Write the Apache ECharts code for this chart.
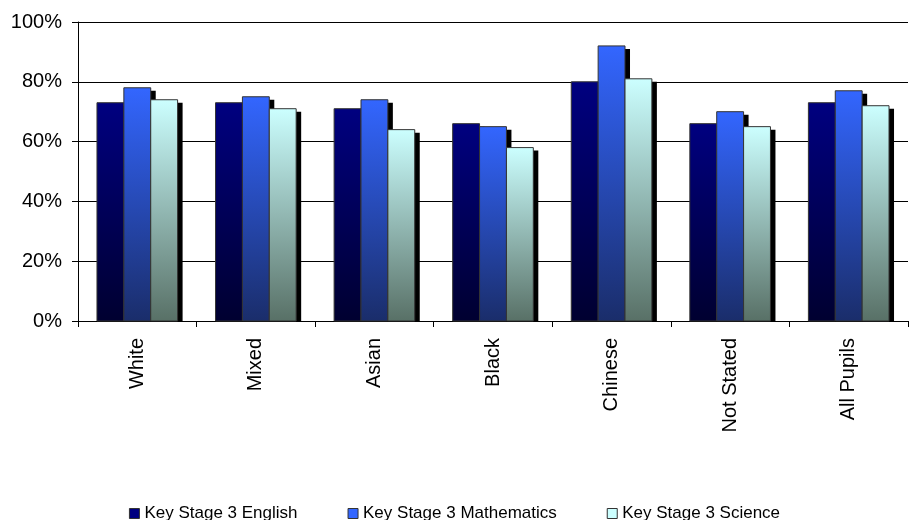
<!DOCTYPE html>
<html>
<head>
<meta charset="utf-8">
<script src="https://cdn.jsdelivr.net/npm/echarts@6/dist/echarts.min.js"></script>
<style>
  html, body { margin: 0; padding: 0; background: #fff; }
  #chart { width: 909px; height: 520px; }
</style>
</head>
<body>
<div id="chart"></div>
<script>
var categories = ['White', 'Mixed', 'Asian', 'Black', 'Chinese', 'Not Stated', 'All Pupils'];
var english = [73, 73, 71, 66, 80, 66, 73];
var maths = [78, 75, 74, 65, 92, 70, 77];
var science = [74, 71, 64, 58, 81, 65, 72];
var yTicks = [0, 20, 40, 60, 80, 100];

var names = ['Key Stage 3 English', 'Key Stage 3 Mathematics', 'Key Stage 3 Science'];
var values = [english, maths, science];
var topColors = ['#000080', '#3366ff', '#ccffff'];
var bottomColors = ['#000030', '#1a2d6a', '#587066'];

function grad(top, bottom) {
    return new echarts.graphic.LinearGradient(0, 0, 0, 1, [
        { offset: 0, color: top },
        { offset: 1, color: bottom }
    ]);
}

// bars drawn by hand so the black drop shadow sits behind a bordered gradient box
function barRenderer(i) {
    return function (params, api) {
        var cat = api.value(0), val = api.value(1);
        var base = api.coord([cat, 0]);
        var top = api.coord([cat, val]);
        var band = api.size([1, 0])[0];
        var bw = band * 0.68 / 3;
        var x = base[0] - band * 0.34 + i * bw;
        var h = base[1] - top[1];
        return {
            type: 'group',
            children: [
                {
                    type: 'rect',
                    shape: { x: x + 5, y: top[1] + 3, width: bw, height: h - 3 },
                    style: { fill: '#000' }
                },
                {
                    type: 'rect',
                    shape: { x: x, y: top[1], width: bw, height: h },
                    style: { fill: grad(topColors[i], bottomColors[i]), stroke: '#333', lineWidth: 1 }
                }
            ]
        };
    };
}

var myChart = echarts.init(document.getElementById('chart'));
var option = {
    animation: false,
    textStyle: { fontFamily: 'Liberation Sans, Arial, sans-serif', color: '#000' },
    grid: { left: 78, right: 1, top: 22, bottom: 199 },
    legend: {
        top: 505,
        left: 'center',
        padding: 0,
        icon: 'rect',
        itemWidth: 10,
        itemHeight: 10,
        itemGap: 50,
        textStyle: { fontSize: 17, color: '#000' },
        data: names.map(function (n, i) {
            return { name: n, itemStyle: { color: topColors[i], borderColor: '#333', borderWidth: 1 } };
        })
    },
    xAxis: {
        type: 'category',
        data: categories,
        axisLine: { lineStyle: { color: '#000', width: 1 } },
        axisTick: { show: true, length: 6, lineStyle: { color: '#000' } },
        axisLabel: { rotate: 90, fontSize: 20, color: '#000', margin: 17 }
    },
    yAxis: {
        type: 'value',
        min: yTicks[0],
        max: yTicks[yTicks.length - 1],
        interval: 20,
        axisLine: { show: true, lineStyle: { color: '#000' } },
        axisTick: { show: true, length: 6, lineStyle: { color: '#000' } },
        axisLabel: { formatter: '{value}%', fontSize: 20, color: '#000', margin: 16 },
        splitLine: { lineStyle: { color: '#000', width: 1 } }
    },
    series: names.map(function (n, i) {
        return {
            name: n,
            type: 'custom',
            itemStyle: { color: topColors[i] },
            renderItem: barRenderer(i),
            data: values[i].map(function (v, j) { return [j, v]; })
        };
    })
};
myChart.setOption(option);
</script>
</body>
</html>
